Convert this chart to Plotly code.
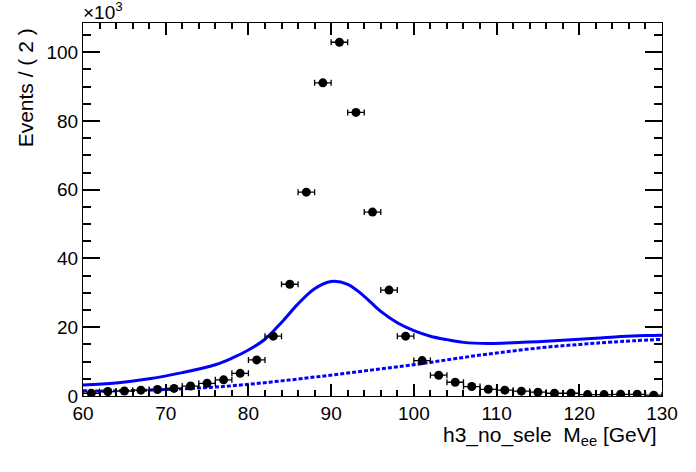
import plotly.graph_objects as go

# histogram h3_no_sele, 2 GeV bins (bin centres)
mass_bins = [61, 63, 65, 67, 69, 71, 73, 75, 77, 79, 81, 83, 85, 87, 89, 91, 93, 95,
             97, 99, 101, 103, 105, 107, 109, 111, 113, 115, 117, 119, 121, 123, 125, 127, 129]
events = [800, 1300, 1450, 1700, 1900, 2200, 2900, 3700, 4700, 6600, 10500, 17400,
          32500, 59300, 91100, 102900, 82500, 53500, 30800, 17400, 10300, 6050, 4000,
          2750, 1950, 1700, 1400, 1100, 800, 800, 400, 400, 500, 500, 250]

# total fit curve
fit_x = [60, 64, 68, 72, 76, 78, 80, 82, 84, 86, 88, 90, 92, 94, 96, 98, 100,
         102, 104, 106, 109, 112, 115, 118, 122, 125, 128, 130]
fit_y = [3200, 3800, 5000, 6800, 9100, 11000, 13400, 16500, 21400, 26800, 31200,
         33300, 32500, 29000, 24600, 21300, 19000, 17400, 16400, 15600, 15300,
         15500, 15800, 16200, 16800, 17300, 17600, 17700]

# background component
bkg_x = [60, 64, 68, 72, 76, 80, 84, 88, 92, 96, 100, 104, 108, 112, 116, 120, 124, 130]
bkg_y = [1500, 1500, 1700, 2100, 2600, 3400, 4400, 5500, 6700, 7900, 9100, 10500,
         11900, 13100, 14200, 15000, 15700, 16500]

x_ticks = [60, 70, 80, 90, 100, 110, 120, 130]
y_ticks = [0, 20000, 40000, 60000, 80000, 100000]
y_labels = ["0", "20", "40", "60", "80", "100"]

font = "Liberation Sans, Arial, sans-serif"

fig = go.Figure()
fig.add_trace(go.Scatter(x=bkg_x, y=bkg_y, mode="lines", line_shape="spline",
                         line=dict(color="#0000ff", width=3, dash="4px,2px")))
fig.add_trace(go.Scatter(x=fit_x, y=fit_y, mode="lines", line_shape="spline",
                         line=dict(color="#0000ff", width=3)))
fig.add_trace(go.Scatter(x=mass_bins, y=events, mode="markers",
                         marker=dict(color="black", size=9),
                         error_x=dict(type="constant", value=1, width=3,
                                      thickness=1.3, color="black")))

fig.update_xaxes(range=[60, 130], tickvals=x_ticks,
                 ticks="inside", ticklen=12, tickcolor="#000000", tickwidth=2,
                 mirror="allticks", showline=True, linecolor="black", linewidth=1,
                 showgrid=False, zeroline=False, automargin=False,
                 tickfont=dict(family=font, size=19, color="black"),
                 minor=dict(dtick=2, tick0=60, ticks="inside", ticklen=6,
                            tickcolor="#000000", tickwidth=2, showgrid=False))
fig.update_yaxes(range=[0, 108500], tickvals=y_ticks, ticktext=y_labels,
                 ticks="inside", ticklen=17, tickcolor="#000000", tickwidth=2,
                 mirror="allticks", showline=True, linecolor="black", linewidth=1,
                 showgrid=False, zeroline=False, automargin=False,
                 tickfont=dict(family=font, size=19, color="black"),
                 minor=dict(dtick=5000, tick0=0, ticks="inside", ticklen=8,
                            tickcolor="#000000", tickwidth=2, showgrid=False))

fig.add_annotation(text="Events / ( 2 )", textangle=-90, xref="paper", yref="paper",
                   x=-0.1, y=0.99, xanchor="center", yanchor="top", showarrow=False,
                   font=dict(family=font, size=21, color="black"))
fig.add_annotation(text="h3_no_sele  M<sub>ee</sub> [GeV]", xref="paper", yref="paper",
                   x=0.994, y=-0.068, xanchor="right", yanchor="top", showarrow=False,
                   font=dict(family=font, size=21, color="black"))
fig.add_annotation(text="×10<sup>3</sup>", xref="paper", yref="paper",
                   x=-0.003, y=1.0, xanchor="left", yanchor="bottom", showarrow=False,
                   yshift=-2, font=dict(family=font, size=19, color="black"))

fig.update_layout(template="simple_white", width=696, height=472, showlegend=False,
                  margin=dict(l=83, r=34, t=23, b=76),
                  plot_bgcolor="white", paper_bgcolor="white")

fig.write_html("out.html", config={"displayModeBar": False},
               post_script="document.body.style.margin='0';")
